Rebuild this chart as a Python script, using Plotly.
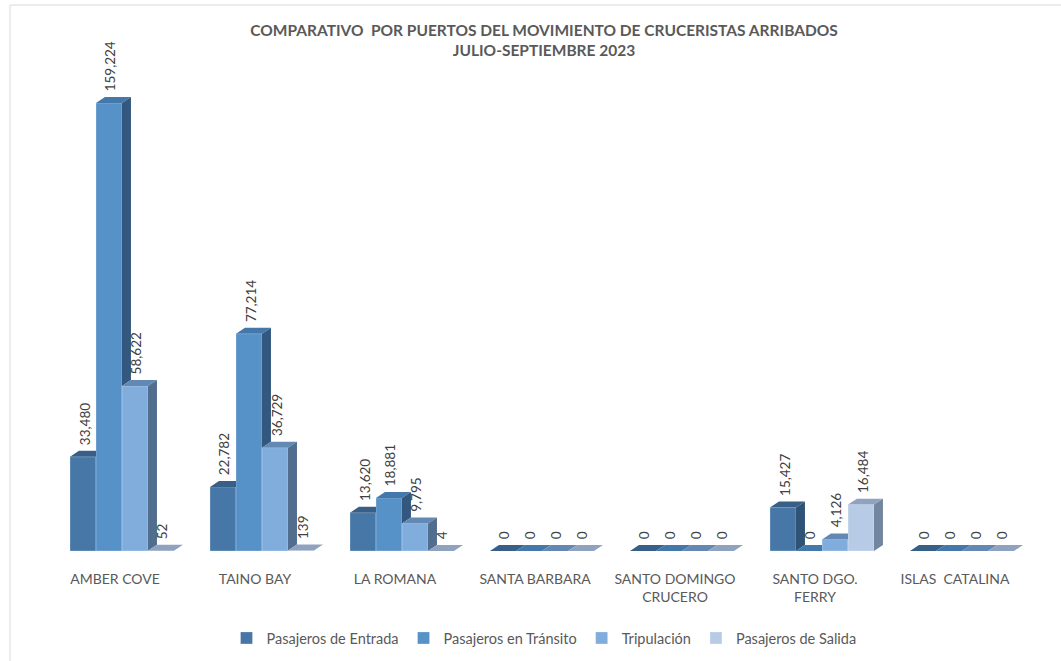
import plotly.graph_objects as go

# ---------------- data ----------------
categories = ["AMBER COVE", "TAINO BAY", "LA ROMANA", "SANTA BARBARA",
              "SANTO DOMINGO<br>CRUCERO", "SANTO DGO.<br>FERRY", "ISLAS\u00a0\u00a0CATALINA"]
series_names = ["Pasajeros de Entrada", "Pasajeros en Tránsito", "Tripulación", "Pasajeros de Salida"]
entrada = [33480, 22782, 13620, 0, 0, 15427, 0]
transito = [159224, 77214, 18881, 0, 0, 0, 0]
tripulacion = [58622, 36729, 9795, 0, 0, 4126, 0]
salida = [52, 139, 4, 0, 0, 16484, 0]

title_text = ("<b>COMPARATIVO\u00a0\u00a0POR PUERTOS DEL MOVIMIENTO DE CRUCERISTAS ARRIBADOS"
              "<br>JULIO-SEPTIEMBRE 2023</b>")

# ---------------- style ----------------
front_colors = ["#4677A6", "#5691C8", "#80ADDC", "#B8CBE6"]
top_colors = ["#375F88", "#4578AA", "#6388B3", "#8FA3C0"]
side_colors = ["#2E5376", "#33587F", "#526E8F", "#74869F"]
FONT = "Lato"
TXT = "#595959"

series = [entrada, transito, tripulacion, salida]
n = len(series)
bargap = 0.257
w = (1 - bargap) / n
DX = 0.064      # depth offset (category units)
DY = 2130       # depth offset (value units)
YMAX = 167400

W, H = 1061, 661
ML, MR, MT, MB = 52, 29, 80, 110
PW = W - ML - MR
PH = H - MT - MB
BASE = H - MB  # pixel row of the baseline

fig = go.Figure()
xs = list(range(len(categories)))

# front faces as real bars
for i, vals in enumerate(series):
    fig.add_trace(go.Bar(
        x=xs, y=vals, name=series_names[i],
        width=w, offset=(i - n / 2) * w,
        marker=dict(color=front_colors[i], line=dict(color="rgba(255,255,255,0.45)", width=0.6)),
        hoverinfo="x+y+name",
    ))

# 3D top and side faces derived from the same values
annotations = []
for i, vals in enumerate(series):
    tx, ty, sx, sy = [], [], [], []
    for k, v in enumerate(vals):
        vn = series[i + 1][k] if i + 1 < n else 0
        xl = k + (i - n / 2) * w
        xr = xl + w
        if vn > v:
            tx += [xl, xl + DX, xr, xr, xl, None]
            ty += [v, v + DY, v + DY, v, v, None]
        else:
            tx += [xl, xl + DX, xr + DX, xr, xl, None]
            ty += [v, v + DY, v + DY, v, v, None]
        if v > vn:
            sx += [xr, xr + DX, xr + DX, xr, xr, None]
            sy += [vn, vn + DY, v + DY, v, vn, None]
        annotations.append(dict(
            x=xl + w / 2 + DX * 0.15, y=v + DY, xref="x", yref="y",
            text=f"{v:,}", textangle=-90, showarrow=False,
            xanchor="center", yanchor="bottom", yshift=4,
            font=dict(family=FONT, size=13.5, color="#404040"),
        ))
    fig.add_trace(go.Scatter(x=tx, y=ty, mode="lines", fill="toself", fillcolor=top_colors[i],
                             line=dict(width=0, color=top_colors[i]), showlegend=False, hoverinfo="skip"))
    if sx:
        fig.add_trace(go.Scatter(x=sx, y=sy, mode="lines", fill="toself", fillcolor=side_colors[i],
                                 line=dict(width=0, color=side_colors[i]), showlegend=False, hoverinfo="skip"))

fig.update_layout(
    width=W, height=H,
    margin=dict(l=ML, r=MR, t=MT, b=MB, autoexpand=False),
    paper_bgcolor="white", plot_bgcolor="white",
    barmode="overlay",
    title=dict(text=title_text, x=544 / W, xref="container", xanchor="center",
               y=1 - 36 / H, yref="container", yanchor="top",
               font=dict(family=FONT, size=15.5, color=TXT)),
    xaxis=dict(range=[-0.5, len(categories) - 0.5], tickmode="array", tickvals=xs, ticktext=categories,
               showgrid=False, zeroline=False, showline=False, ticks="",
               tickfont=dict(family=FONT, size=14, color=TXT),
               ticklabelstandoff=18, ticklabelshift=-7, automargin=False),
    yaxis=dict(range=[0, YMAX], showgrid=False, zeroline=False, showline=False,
               showticklabels=False, ticks="", automargin=False),
    legend=dict(orientation="h", x=544 / W, xref="container", xanchor="center",
                y=(H - 638) / H, yref="container", yanchor="middle",
                font=dict(family=FONT, size=14.5, color=TXT),
                itemclick=False, traceorder="normal"),
    annotations=annotations,
    shapes=[dict(type="rect", xref="paper", yref="paper",
                 x0=(10 - ML) / PW, x1=(W + 20 - ML) / PW,
                 y0=-(H + 20 - BASE) / PH, y1=(BASE - 5) / PH,
                 line=dict(color="#D9D9D9", width=1), fillcolor="rgba(0,0,0,0)", layer="below")],
    showlegend=True,
)

fig.write_html("out.html", config={"displayModeBar": False},
               post_script="document.body.style.margin='0';document.body.style.overflow='hidden';")
